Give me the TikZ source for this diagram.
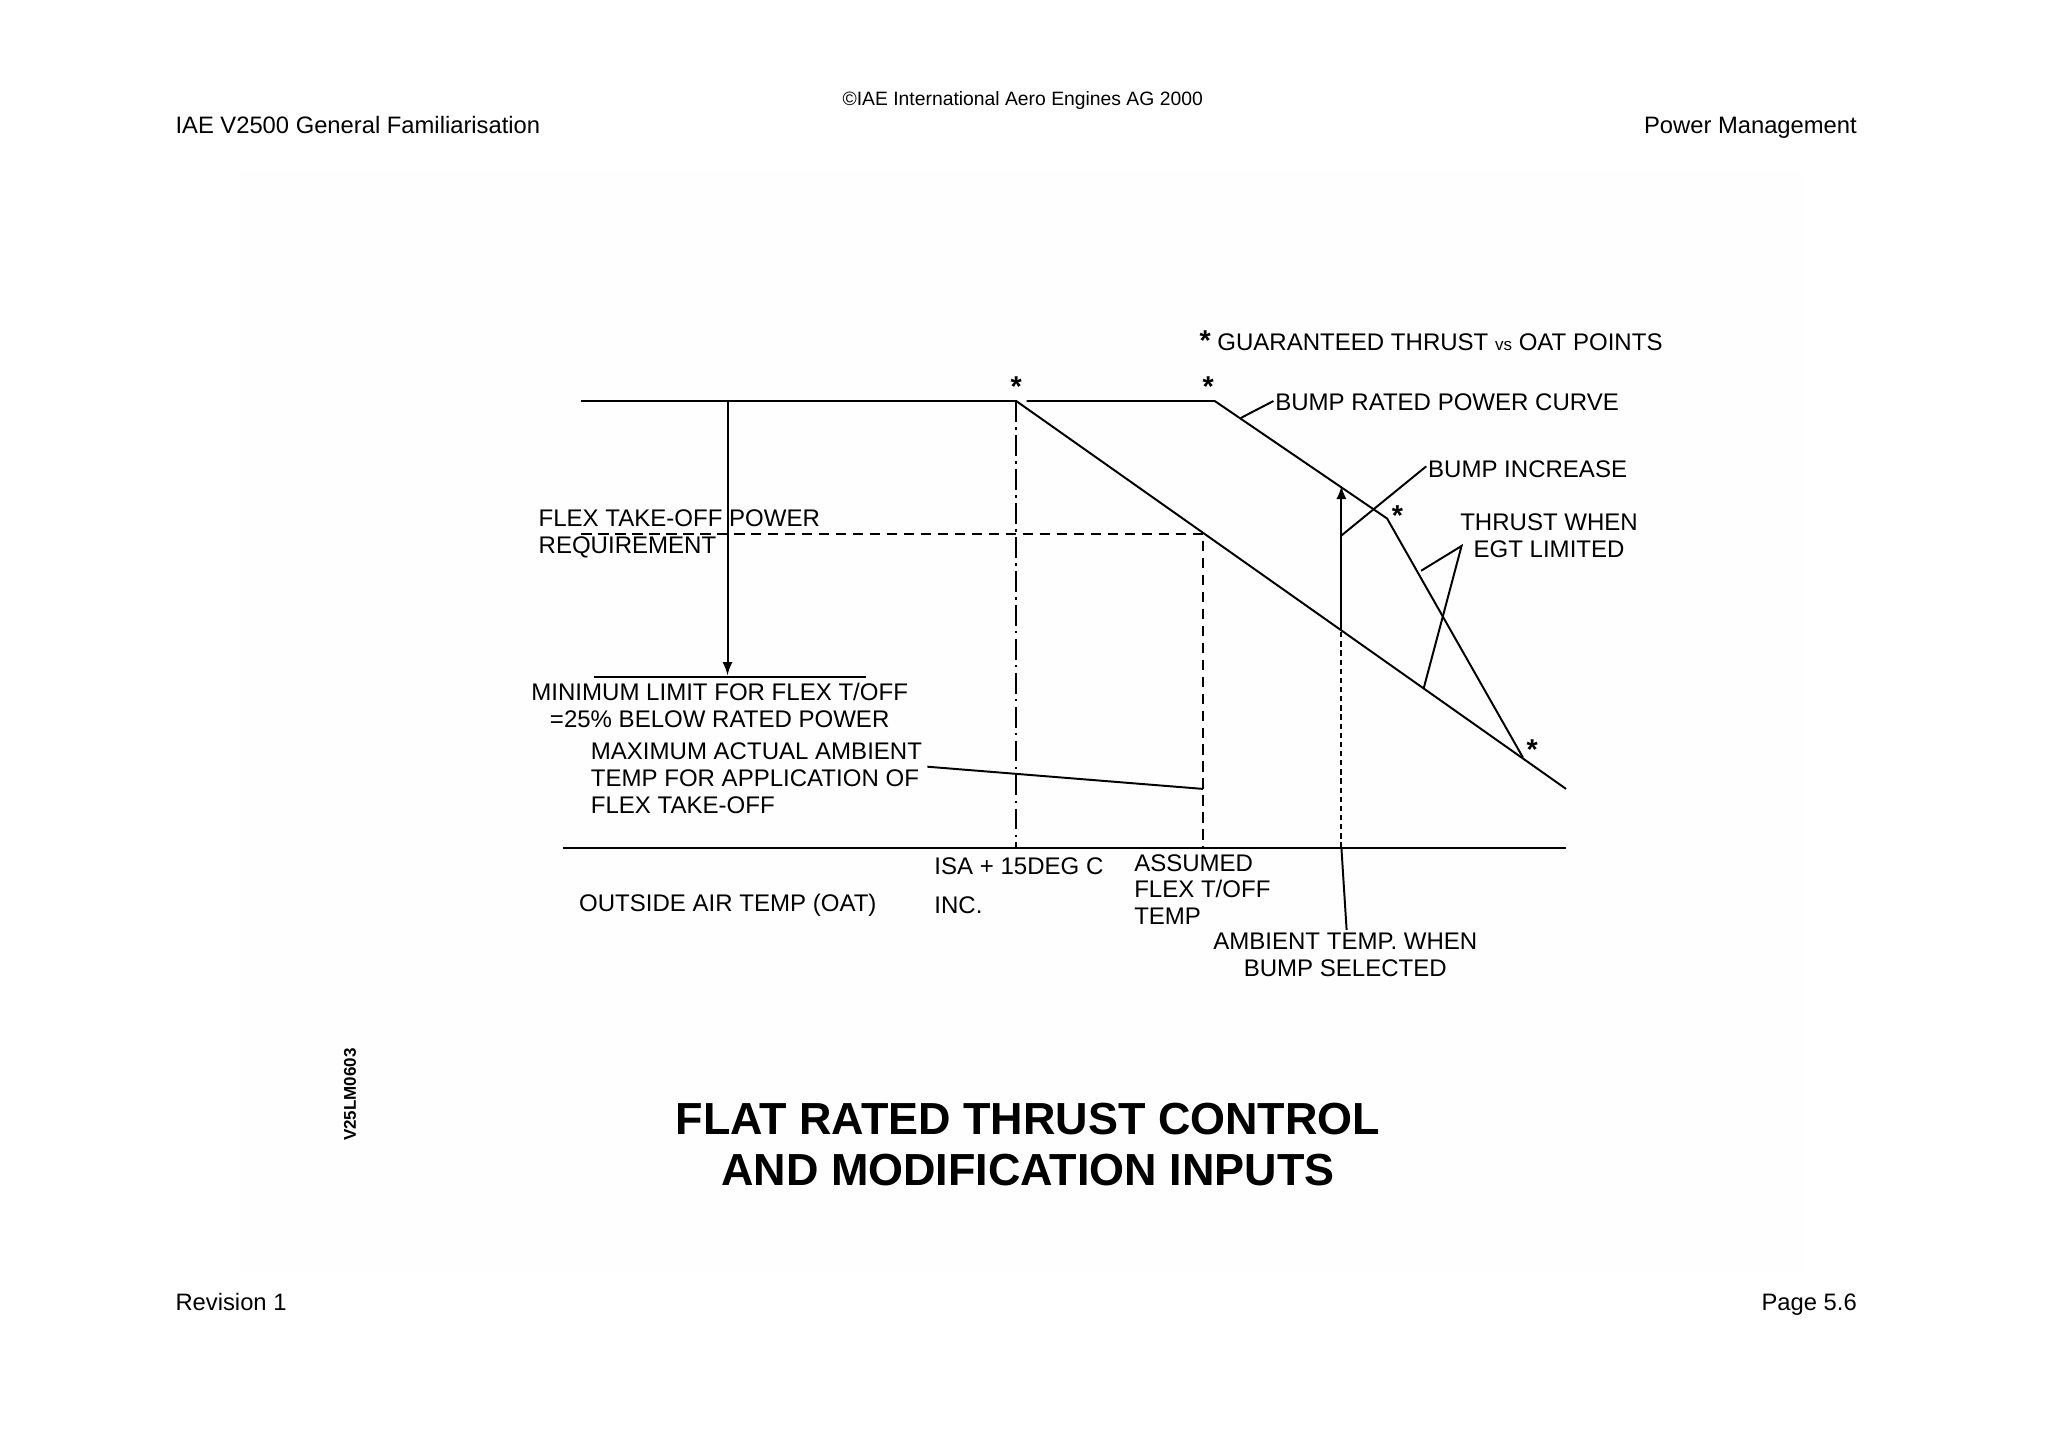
\documentclass[tikz,border=0pt]{standalone}
\usepackage{fontspec}
\setmainfont{Liberation Sans}
\begin{document}
\begin{tikzpicture}[x=0.5pt,y=-0.5pt,
  lbl/.style={font=\fontsize{9.2}{10.25}\selectfont, inner sep=0pt},
  hdr/.style={font=\fontsize{9.1}{10}\selectfont, inner sep=0pt},
  ln/.style={line width=0.75pt},
  star/.style={font=\fontsize{11}{11}\selectfont\bfseries, inner sep=0pt}]
\useasboundingbox (0,0) rectangle (1568,1108);
\fill[gray!1] (183,130) rectangle (1380,975);
% header / footer
\node[font=\fontsize{7.4}{8}\selectfont, inner sep=0pt, anchor=base] (copy) at (783,81) {\textcopyright IAE International Aero Engines AG 2000};
\node[hdr, anchor=base west] (h1) at (134,102) {IAE V2500 General Familiarisation};
\node[hdr, anchor=base east] (h2) at (1422,102) {Power Management};
\node[hdr, anchor=base west] (f1) at (134,1003) {Revision 1};
\node[hdr, anchor=base east] (f2) at (1422,1003) {Page 5.6};
\node[font=\fontsize{6.5}{7}\selectfont\bfseries, rotate=90, inner sep=0pt] (code) at (268,838) {V25LM0603};
\node[font=\fontsize{17.2}{19.5}\selectfont\bfseries, align=center, inner sep=0pt] (title) at (787,876) {FLAT RATED THRUST CONTROL\\AND MODIFICATION INPUTS};
% coordinates
\coordinate (tl) at (445,307); \coordinate (c1) at (778,307);
\coordinate (b0) at (786,307); \coordinate (b1) at (930,307);
\coordinate (b2) at (1062,397); \coordinate (b3) at (1166,580);
\coordinate (send) at (1199,604);
\coordinate (ax0) at (431,649); \coordinate (ax1) at (1199,649);
\coordinate (c1b) at (778,649);
\coordinate (d0) at (445,409); \coordinate (d1) at (921,409); \coordinate (d1b) at (921,649);
\coordinate (ar0) at (557,307); \coordinate (ar1) at (557,517);
\coordinate (m0) at (455,518); \coordinate (m1) at (663,518);
\coordinate (p0) at (710,587); \coordinate (p1) at (921,604);
\coordinate (a0) at (1027,649); \coordinate (a1) at (1027,483); \coordinate (a2) at (1027,372);
\coordinate (a3) at (1031,712);
\coordinate (bi0) at (1027,410); \coordinate (bi1) at (1092,357);
\coordinate (e0) at (1119,418); \coordinate (e1) at (1088,437); \coordinate (e2) at (1090,527);
\coordinate (br0) at (950,320); \coordinate (br1) at (975,307);
% curves
\draw[ln] (tl) -- (c1) -- (send);
\draw[ln] (b0) -- (b1) -- (b2) -- (b3);
\draw[ln] (ax0) -- (ax1);
\draw[ln, dash pattern=on 8pt off 2pt on 1pt off 2pt] (c1) -- (c1b);
\draw[ln, dash pattern=on 4pt off 2.5pt] (d0) -- (d1) -- (d1b);
\draw[ln, -latex] (ar0) -- (ar1);
\draw[ln] (m0) -- (m1);
\draw[ln] (p0) -- (p1);
\draw[ln, dash pattern=on 2pt off 1.5pt] (a0) -- (a1);
\draw[ln, -latex] (a1) -- (a2);
\draw[ln] (a0) -- (a3);
\draw[ln] (bi0) -- (bi1);
\draw[ln] (e1) -- (e0) -- (e2);
\draw[ln] (br0) -- (br1);
% stars
\node[star] (s1) at (778,296) {*};
\node[star] (s2) at (925,296) {*};
\node[star] (s3) at (1070,395) {*};
\node[star] (s4) at (1173,574) {*};
% labels
\node[lbl, anchor=west] (leg) at (918,261) {{\fontsize{11}{11}\selectfont\bfseries *}\ GUARANTEED THRUST {\fontsize{6.5}{7}\selectfont vs} OAT POINTS};
\node[lbl, anchor=west] (brc) at (976,308) {BUMP RATED POWER CURVE};
\node[lbl, anchor=west] (bi) at (1093,359) {BUMP INCREASE};
\node[lbl, align=center] (egt) at (1186,410) {THRUST WHEN\\EGT LIMITED};
\node[lbl, align=left, anchor=west] (flex) at (412,409) {FLEX TAKE-OFF POWER\\REQUIREMENT};
\node[lbl, align=center] (min) at (551,540) {MINIMUM LIMIT FOR FLEX T/OFF\\=25\% BELOW RATED POWER};
\node[lbl, align=left, anchor=west] (max) at (452,596) {MAXIMUM ACTUAL AMBIENT\\TEMP FOR APPLICATION OF\\FLEX TAKE-OFF};
\node[lbl, anchor=west] (isa) at (715,663) {ISA + 15DEG C};
\node[lbl, anchor=west] (inc) at (715,693) {INC.};
\node[lbl, anchor=west] (oat) at (443,693) {OUTSIDE AIR TEMP (OAT)};
\node[lbl, align=left, anchor=west] (ass) at (868,681) {ASSUMED\\FLEX T/OFF\\TEMP};
\node[lbl, align=center] (amb) at (1030,731) {AMBIENT TEMP. WHEN\\BUMP SELECTED};
\end{tikzpicture}
\end{document}
